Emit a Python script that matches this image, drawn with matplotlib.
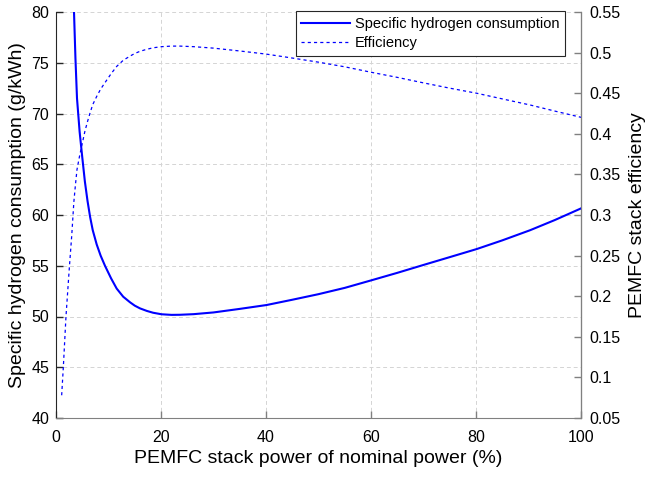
import matplotlib
matplotlib.use("Agg")
import matplotlib.pyplot as plt

plt.rcParams['font.family'] = ['Liberation Sans', 'DejaVu Sans']

# Specific hydrogen consumption (g/kWh) vs stack power (% of nominal)
cons_x = [3.3, 3.4, 3.7, 4.0, 4.5, 5.0, 5.5, 6.0, 6.5, 7.0, 7.75, 8.5, 9.33, 10.5, 11.56, 12.8,
          14.1, 15.0, 16.0, 17.3, 18.5, 20.1, 22.0, 23.6, 26.2, 30.0, 35.0, 40.1, 45.0, 50.0,
          55.0, 60.1, 65.0, 70.0, 75.0, 80.1, 85.0, 90.3, 95.0, 100.0]
cons_y = [82.5, 80.5, 75.5, 71.5, 68.2, 65.7, 63.3, 61.4, 59.8, 58.5, 57.1, 56.0, 55.0, 53.75,
          52.75, 51.95, 51.4, 51.07, 50.8, 50.55, 50.37, 50.22, 50.16, 50.17, 50.23, 50.4, 50.75,
          51.13, 51.65, 52.2, 52.82, 53.57, 54.3, 55.08, 55.85, 56.64, 57.5, 58.5, 59.5, 60.65]

# PEMFC stack efficiency
eff_x = [1.08, 1.4, 1.9, 2.55, 3.0, 3.4, 3.7, 4.0, 4.5, 5.0, 5.5, 6.0, 6.5, 7.0, 7.75, 8.5,
         9.33, 10.5, 11.56, 12.8, 14.1, 15.0, 16.0, 17.3, 18.5, 20.1, 22.0, 23.6, 26.2, 30.0,
         35.0, 40.1, 45.0, 50.0, 55.0, 60.1, 65.0, 70.0, 75.0, 80.1, 85.0, 90.3, 95.0, 100.0]
eff_y = [0.078, 0.113, 0.175, 0.236, 0.275, 0.316, 0.337, 0.356, 0.373, 0.388, 0.403, 0.415,
         0.426, 0.436, 0.446, 0.455, 0.463, 0.474, 0.483, 0.4905, 0.4957, 0.4989, 0.5016, 0.5041,
         0.5059, 0.5073, 0.508, 0.508, 0.5073, 0.5055, 0.502, 0.4981, 0.4933, 0.4882, 0.4825,
         0.4757, 0.4695, 0.4627, 0.4562, 0.450, 0.443, 0.4355, 0.428, 0.4203]

x_ticks = [0, 20, 40, 60, 80, 100]
left_ticks = [40, 45, 50, 55, 60, 65, 70, 75, 80]
right_ticks = [0.05, 0.1, 0.15, 0.2, 0.25, 0.3, 0.35, 0.4, 0.45, 0.5, 0.55]

fig = plt.figure(figsize=(6.48, 4.79), dpi=100)
ax = fig.add_axes([56/648, 1-418/479, (581-56)/648, (418-12)/479])
ax2 = ax.twinx()

l1, = ax.plot(cons_x, cons_y, color='#0000ff', lw=1.5, label='Specific hydrogen consumption',
              solid_joinstyle='round')
l2, = ax2.plot(eff_x, eff_y, color='#0000ff', lw=0.9, linestyle=(0, (2.5, 2.5)), label='Efficiency')

ax.set_xlim(0, 100)
ax.set_ylim(40, 80)
ax2.set_ylim(0.05, 0.55)
ax.set_xticks(x_ticks)
ax.set_yticks(left_ticks)
ax2.set_yticks(right_ticks)
ax2.set_yticklabels([('%g' % v) for v in right_ticks])

ax.grid(True, linestyle=(0, (4, 3)), color='#d4d4d4', lw=0.7)
ax.set_axisbelow(True)

for a in (ax, ax2):
    a.spines['top'].set_visible(False)
    a.tick_params(direction='in', length=5, labelsize=11.5, width=1.0)
ax.spines['left'].set_color('#262626')
ax.spines['bottom'].set_color('#808080')
ax2.spines['right'].set_color('#808080')
ax2.spines['left'].set_visible(False)
ax2.spines['bottom'].set_visible(False)
ax.tick_params(axis='y', colors='#262626', labelcolor='black', pad=5)
ax.tick_params(axis='x', colors='#808080', labelcolor='black', pad=9)
ax2.tick_params(axis='y', colors='#808080', labelcolor='black', pad=6)

ax.set_xlabel('PEMFC stack power of nominal power (%)', fontsize=14, labelpad=3)
ax.set_ylabel('Specific hydrogen consumption (g/kWh)', fontsize=14, labelpad=4)
ax2.set_ylabel('PEMFC stack efficiency', fontsize=14, labelpad=6)

leg = ax2.legend(handles=[l1, l2], loc='upper right', fontsize=10.5, fancybox=False,
                 framealpha=1, edgecolor='#262626', borderaxespad=0.0, handlelength=3.3,
                 handletextpad=0.35, borderpad=0.4, labelspacing=0.35,
                 bbox_to_anchor=(0.9695, 1.0025))
leg.get_frame().set_linewidth(0.8)

fig.savefig('out.png', dpi=100)
